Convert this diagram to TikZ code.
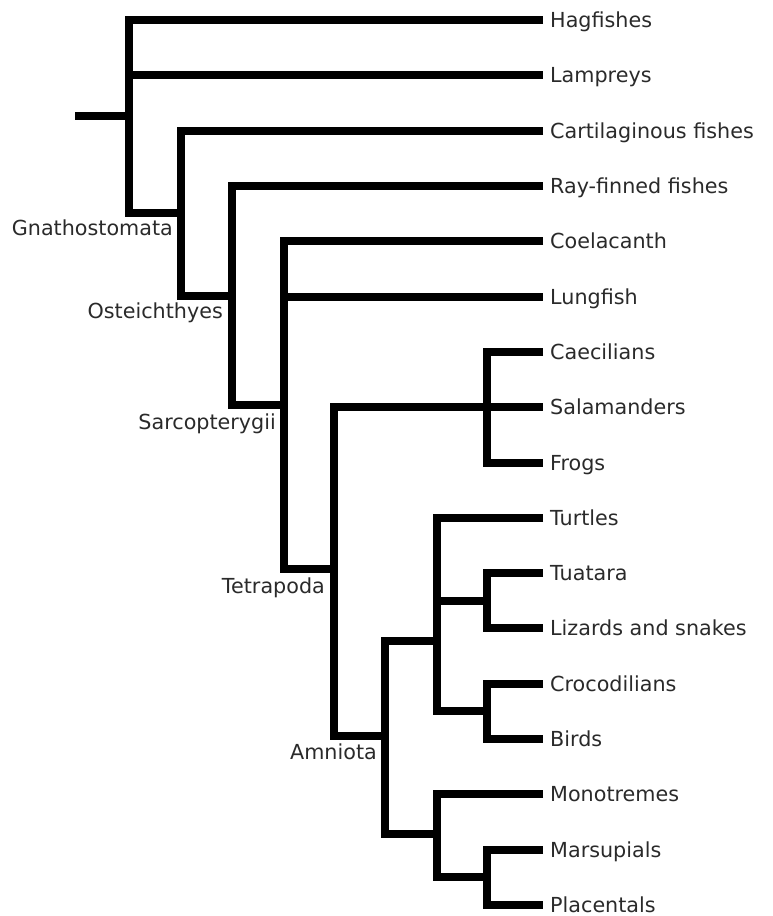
\documentclass[tikz,border=0pt]{standalone}
\usepackage{fontspec}
\setmainfont{DejaVu Sans}
\definecolor{txt}{HTML}{2A2A2A}
\begin{document}
\begin{tikzpicture}[x=1pt,y=-1pt,
  br/.style={line width=8pt,line join=miter,line cap=butt,draw=black},
  leaf/.style={anchor=base west,inner sep=0pt,text=txt,font=\fontsize{20.7}{24}\selectfont},
  clade/.style={anchor=base east,inner sep=0pt,text=txt,font=\fontsize{20.7}{24}\selectfont}]
\useasboundingbox (0,0) rectangle (773,916);
% leaf tips
\def\tipx{543}
\def\labx{550}
\foreach \nm/\yy in {hag/20,lam/75.3,cart/130.6,ray/185.9,coel/241.3,lung/296.6,caec/351.9,sal/407.2,frog/462.5,turt/517.8,tuat/573.1,liz/628.4,croc/683.7,bird/739,mono/794.4,mars/849.7,plac/905}{
  \coordinate (\nm T) at (\tipx,\yy);
}
\node[leaf] (hag) at (\labx,27.5) {Hagfishes};
\node[leaf] (lam) at (\labx,82.8) {Lampreys};
\node[leaf] (cart) at (\labx,138.1) {Cartilaginous fishes};
\node[leaf] (ray) at (\labx,193.4) {Ray-finned fishes};
\node[leaf] (coel) at (\labx,248.8) {Coelacanth};
\node[leaf] (lung) at (\labx,304.1) {Lungfish};
\node[leaf] (caec) at (\labx,359.4) {Caecilians};
\node[leaf] (sal) at (\labx,414.7) {Salamanders};
\node[leaf] (frog) at (\labx,470) {Frogs};
\node[leaf] (turt) at (\labx,525.3) {Turtles};
\node[leaf] (tuat) at (\labx,580.6) {Tuatara};
\node[leaf] (liz) at (\labx,635.9) {Lizards and snakes};
\node[leaf] (croc) at (\labx,691.2) {Crocodilians};
\node[leaf] (bird) at (\labx,746.5) {Birds};
\node[leaf] (mono) at (\labx,801.9) {Monotremes};
\node[leaf] (mars) at (\labx,857.2) {Marsupials};
\node[leaf] (plac) at (\labx,912.5) {Placentals};
% internal nodes (where stem meets the vertical bar)
\coordinate (rootS) at (75,116);
\coordinate (root) at (129,116);
\coordinate (gnath) at (181,212.5);
\coordinate (oste) at (232,296);
\coordinate (sarc) at (284,405);
\coordinate (tetra) at (334,569);
\coordinate (amph) at (487,407.2);
\coordinate (amnio) at (385,736);
\coordinate (saur) at (437,641);
\coordinate (lepi) at (487,600.5);
\coordinate (arch) at (487,711);
\coordinate (mamm) at (437,834);
\coordinate (ther) at (487,877.4);
% root
\draw[br] (rootS) -- (root);
\draw[br] (hagT) -- (hagT -| root) -- (gnath -| root) -- (gnath);
\draw[br] (lamT -| root) -- (lamT);
% Gnathostomata
\draw[br] (cartT) -- (cartT -| gnath) -- (oste -| gnath) -- (oste);
% Osteichthyes
\draw[br] (rayT) -- (rayT -| oste) -- (sarc -| oste) -- (sarc);
% Sarcopterygii
\draw[br] (coelT) -- (coelT -| sarc) -- (tetra -| sarc) -- (tetra);
\draw[br] (lungT -| sarc) -- (lungT);
% Tetrapoda
\draw[br] (amph) -- (amph -| tetra) -- (amnio -| tetra) -- (amnio);
% Amphibians
\draw[br] (caecT) -- (caecT -| amph) -- (frogT -| amph) -- (frogT);
\draw[br] (amph) -- (salT);
% Amniota
\draw[br] (saur) -- (saur -| amnio) -- (mamm -| amnio) -- (mamm);
% Sauropsida
\draw[br] (turtT) -- (turtT -| saur) -- (arch -| saur) -- (arch);
\draw[br] (lepi -| saur) -- (lepi);
\draw[br] (tuatT) -- (tuatT -| lepi) -- (lizT -| lepi) -- (lizT);
\draw[br] (crocT) -- (crocT -| arch) -- (birdT -| arch) -- (birdT);
% Mammals
\draw[br] (monoT) -- (monoT -| mamm) -- (ther -| mamm) -- (ther);
\draw[br] (marsT) -- (marsT -| ther) -- (placT -| ther) -- (placT);
% clade labels
\node[clade] (lgnath) at ([shift={(-8,22.5)}]gnath) {Gnathostomata};
\node[clade] (loste) at ([shift={(-9,22.5)}]oste) {Osteichthyes};
\node[clade] (lsarc) at ([shift={(-8,24)}]sarc) {Sarcopterygii};
\node[clade] (ltetra) at ([shift={(-9,24)}]tetra) {Tetrapoda};
\node[clade] (lamnio) at ([shift={(-8,23.5)}]amnio) {Amniota};
\end{tikzpicture}
\end{document}
